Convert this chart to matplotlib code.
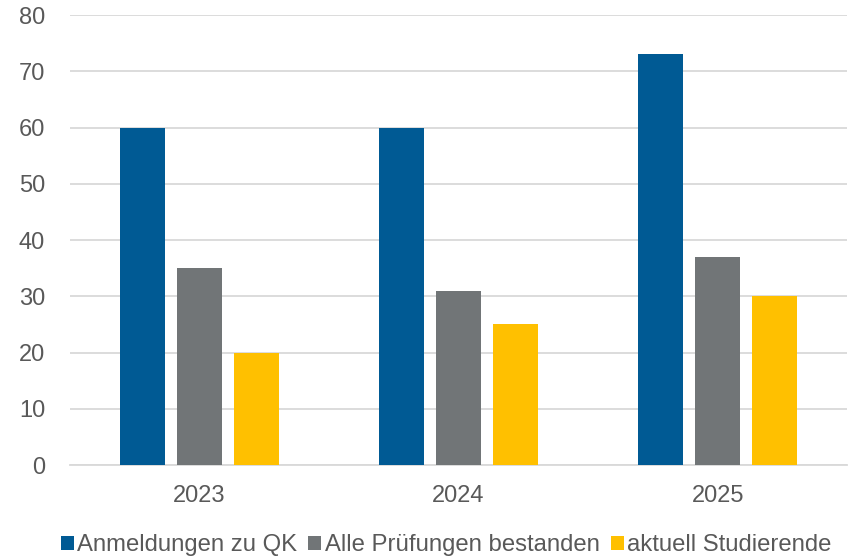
import numpy as np
import matplotlib.pyplot as plt

plt.rcParams['font.family'] = ['Liberation Sans', 'DejaVu Sans']

jahre = ['2023', '2024', '2025']
anmeldungen = [60, 60, 73]
bestanden = [35, 31, 37]
studierende = [20, 25, 30]

serien = ['Anmeldungen zu QK', 'Alle Prüfungen bestanden', 'aktuell Studierende']
farben = ['#005A94', '#717577', '#FFC000']

fig = plt.figure(figsize=(8.54, 5.59), dpi=100)
ax = fig.add_axes([0.082, 0.168, 0.910, 0.805])

x = np.arange(len(jahre))
breite = 0.174
abstand = 0.22
for i, (werte, name, farbe) in enumerate(zip([anmeldungen, bestanden, studierende], serien, farben)):
    ax.bar(x + (i - 1) * abstand, werte, breite, color=farbe, label=name, zorder=3)

ax.set_xlim(-0.5, 2.5)
ax.set_ylim(0, 80)
ax.set_yticks(range(0, 81, 10))
ax.set_xticks(x)
ax.set_xticklabels(jahre)
ax.yaxis.grid(True, color='#D9D9D9', linewidth=1.3, zorder=0)
ax.set_axisbelow(True)
for s in ['top', 'right', 'left']:
    ax.spines[s].set_visible(False)
ax.spines['bottom'].set_color('#D9D9D9')
ax.spines['bottom'].set_linewidth(1.3)
ax.tick_params(axis='both', length=0, labelsize=17, colors='#595959')
ax.tick_params(axis='x', pad=14)
ax.tick_params(axis='y', pad=18)

ax.legend(loc='center', bbox_to_anchor=(0.484, -0.178), ncol=3, frameon=False,
          fontsize=17.2, handlelength=0.55, handleheight=0.55, handletextpad=0.15,
          columnspacing=0.45, labelcolor='#595959')

fig.savefig('out.png', dpi=100)
